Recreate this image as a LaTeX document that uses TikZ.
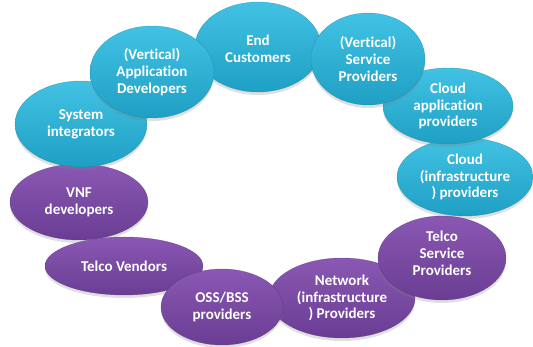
\documentclass[tikz,border=0pt]{standalone}
\usepackage{fontspec}
\setmainfont{Carlito}[Ligatures=NoCommon]
\usetikzlibrary{shapes.geometric,shadows}
\definecolor{bluetop}{HTML}{42C2E3}
\definecolor{bluebot}{HTML}{1E9FC4}
\definecolor{purtop}{HTML}{8A58B3}
\definecolor{purbot}{HTML}{6A3D93}
\tikzset{
  bub/.style 2 args={ellipse, inner sep=0pt, minimum width=#1pt, minimum height=#2pt,
    drop shadow={opacity=0.25, shadow xshift=0pt, shadow yshift=-3pt}},
  bluebub/.style={top color=bluetop, bottom color=bluebot, draw=bluebot!85!black, draw opacity=0.6, line width=0.4pt},
  purbub/.style={top color=purtop, bottom color=purbot, draw=purbot!85!black, draw opacity=0.6, line width=0.4pt},
  lbl/.style={text=white, font=\bfseries\fontsize{15}{16.8}\selectfont, align=center, inner sep=0pt}
}
\begin{document}
\begin{tikzpicture}[x=1pt,y=-1pt]
\useasboundingbox (0,0) rectangle (533,347);
\node[bub={138}{76}, purbub, label={[lbl]center:VNF\\developers}] (vnf) at (79,202) {};
\node[bub={132}{86}, bluebub, label={[lbl]center:System\\integrators}] (si) at (81,124) {};
\node[bub={126}{90}, bluebub, label={[lbl, yshift=-2pt]center:End\\Customers}] (ec) at (258,47) {};
\node[bub={124}{92}, bluebub, label={[lbl]center:(Vertical)\\Application\\Developers}] (ad) at (152,72) {};
\node[bub={136}{78}, bluebub, label={[lbl]center:Cloud\\(infrastructure\\) providers}] (cip) at (465,177) {};
\node[bub={130}{76}, bluebub, label={[lbl]center:Cloud\\application\\providers}] (cap) at (448,106) {};
\node[bub={114}{92}, bluebub, label={[lbl]center:(Vertical)\\Service\\Providers}] (vsp) at (368,59) {};
\node[bub={158}{58}, purbub, label={[lbl]center:Telco Vendors}] (tv) at (124,266) {};
\node[bub={146}{80}, purbub, label={[lbl]center:Network\\(infrastructure\\) Providers}] (nip) at (342,298) {};
\node[bub={122}{76}, purbub, label={[lbl]center:OSS/BSS\\providers}] (oss) at (222,307) {};
\node[bub={128}{84}, purbub, label={[lbl, yshift=5pt]center:Telco\\Service\\Providers}] (tsp) at (442,258) {};
\end{tikzpicture}
\end{document}
